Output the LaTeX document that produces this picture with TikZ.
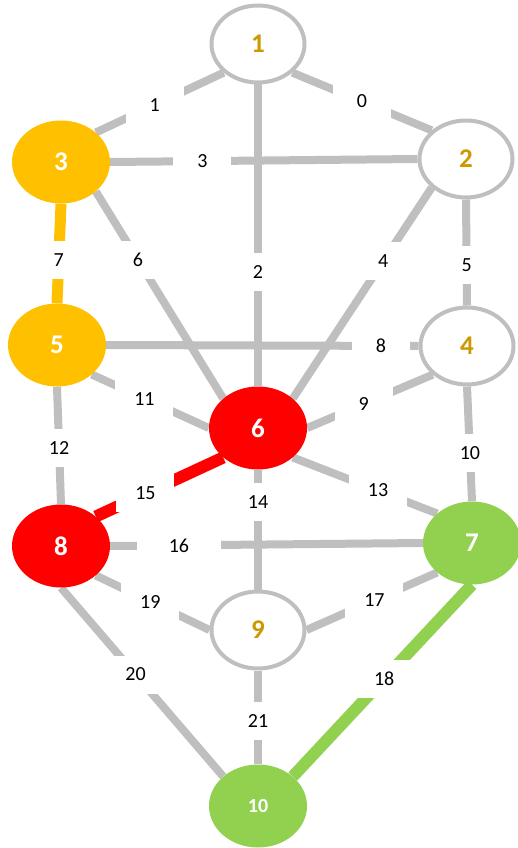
\documentclass[tikz,border=0pt]{standalone}
\usepackage{fontspec}
\setmainfont{Carlito}
\usetikzlibrary{shapes.geometric,backgrounds}
\definecolor{edgegray}{RGB}{191,191,191}
\definecolor{goldfill}{RGB}{255,192,0}
\definecolor{leaf}{RGB}{146,208,80}
\definecolor{numgold}{RGB}{204,153,0}
\definecolor{hotred}{RGB}{255,0,0}
\begin{document}
\begin{tikzpicture}[x=1pt,y=-1pt,
  vtx/.style={ellipse,inner sep=0pt,minimum width=93pt,minimum height=77pt,draw=edgegray,line width=4pt,fill=white,text=numgold,font=\fontsize{27}{30}\selectfont\bfseries},
  fillvtx/.style={ellipse,inner sep=0pt,minimum width=98pt,minimum height=83pt,text=white,font=\fontsize{27}{30}\selectfont\bfseries},
  conn/.style={draw=edgegray,line width=8pt},
  lbl/.style={fill=white,inner sep=0pt,minimum width=58pt,minimum height=38pt,font=\fontsize{20}{24}\selectfont}]
\useasboundingbox (0,0) rectangle (517,848);
% vertices
\node[vtx] (n1) at (258,44) {1};
\node[vtx] (n2) at (466,159) {2};
\node[fillvtx,fill=goldfill] (n3) at (61,162) {3};
\node[vtx] (n4) at (467,346) {4};
\node[fillvtx,fill=goldfill] (n5) at (57,345) {5};
\node[fillvtx,fill=hotred] (n6) at (258,428) {6};
\node[fillvtx,fill=leaf] (n7) at (472,543) {7};
\node[fillvtx,fill=hotred] (n8) at (61,546) {8};
\node[vtx] (n9) at (258,630) {9};
\node[fillvtx,fill=leaf,font=\fontsize{20}{24}\selectfont\bfseries] (n10) at (258,806) {10};
\begin{scope}[on background layer]
% connectors
\draw[conn] (n1.south east) -- coordinate[pos=.5] (c0) (n2.north west);
\draw[conn] (n1.south west) -- coordinate[pos=.54] (c1) (n3.north east);
\draw[conn] (n1.south) -- coordinate[pos=.62] (c2) (n6.north);
\draw[conn] (n3.east) -- coordinate[pos=.30] (c3) (n2.west);
\draw[conn] (n2.south west) -- coordinate[pos=.35] (c4) (n6.north east);
\draw[conn] (n2.south) -- coordinate[pos=.62] (c5) (n4.north);
\draw[conn] (n3.south east) -- coordinate[pos=.33] (c6) (n6.north west);
\draw[conn,draw=goldfill,line width=11pt] (n3.south) -- coordinate[pos=.57] (c7) (n5.north);
\draw[conn] (n5.east) -- coordinate[pos=.88] (c8) (n4.west);
\draw[conn] (n4.south west) -- coordinate[pos=.55] (c9) (n6.east);
\draw[conn] (n4.south) -- coordinate[pos=.58] (c10) (n7.north);
\draw[conn] (n5.south east) -- coordinate[pos=.45] (c11) (n6.west);
\draw[conn] (n5.south) -- coordinate[pos=.52] (c12) (n8.north);
\draw[conn] (n6.south east) -- coordinate[pos=.59] (c13) (n7.north west);
\draw[conn] (n6.south) -- coordinate[pos=.27] (c14) (n9.north);
\draw[conn,draw=hotred,line width=12pt] (n6.south west) -- coordinate[pos=.61] (c15) (n8.north east);
\draw[conn] (n8.east) -- coordinate[pos=.22] (c16) (n7.west);
\draw[conn] (n9.east) -- coordinate[pos=.52] (c17) (n7.south west);
\draw[conn,draw=leaf,line width=12pt] (n7.south) -- coordinate[pos=.49] (c18) (n10.north east);
\draw[conn] (n8.south east) -- coordinate[pos=.48] (c19) (n9.west);
\draw[conn] (n8.south) -- coordinate[pos=.46] (c20) (n10.north west);
\draw[conn] (n9.south) -- coordinate[pos=.54] (c21) (n10.north);
% labels
\node[lbl] (l0) at (c0) {0};
\node[lbl] (l1) at (c1) {1};
\node[lbl] (l2) at (c2) {2};
\node[lbl] (l3) at (c3) {3};
\node[lbl] (l4) at (c4) {4};
\node[lbl] (l5) at (c5) {5};
\node[lbl] (l6) at (c6) {6};
\node[lbl] (l7) at (c7) {7};
\node[lbl] (l8) at (c8) {8};
\node[lbl] (l9) at (c9) {9};
\node[lbl] (l10) at (c10) {10};
\node[lbl] (l11) at (c11) {11};
\node[lbl] (l12) at (c12) {12};
\node[lbl] (l13) at (c13) {13};
\node[lbl] (l14) at (c14) {14};
\node[lbl] (l15) at (c15) {15};
\node[lbl,minimum width=84pt] (l16) at (c16) {16};
\node[lbl] (l17) at (c17) {17};
\node[lbl] (l18) at (c18) {18};
\node[lbl] (l19) at (c19) {19};
\node[lbl] (l20) at (c20) {20};
\node[lbl] (l21) at (c21) {21};
\end{scope}
\end{tikzpicture}
\end{document}
